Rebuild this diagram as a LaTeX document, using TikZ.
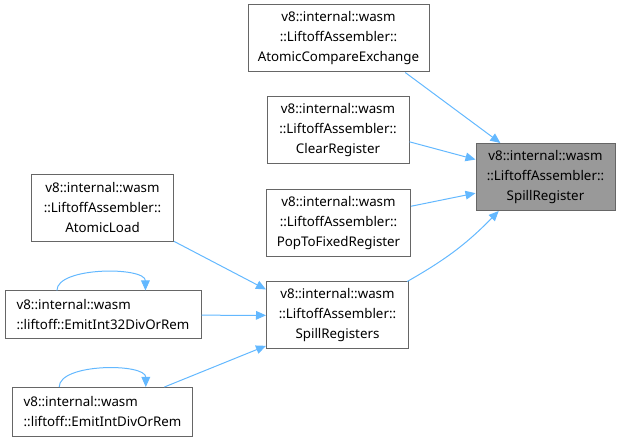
\documentclass[tikz,border=0pt]{standalone}
\usepackage{fontspec}
\setmainfont{Noto Sans}
\usetikzlibrary{arrows.meta}

\definecolor{edgeblue}{HTML}{63B8FF}
\definecolor{boxgray}{HTML}{666666}
\definecolor{hilite}{HTML}{999999}

\begin{document}
\begin{tikzpicture}[
  x=0.75pt, y=-0.75pt,
  fn/.style={rectangle, draw=boxgray, line width=0.75pt, fill=white, align=center, inner sep=0pt, minimum width=106.5pt, minimum height=50.25pt, font=\fontsize{10}{15}\selectfont},
  arrow/.style={-{Triangle[length=7.5pt, width=6.5pt]}, draw=edgeblue, line width=0.75pt},
]
\useasboundingbox (0,0) rectangle (622,442);

% === Callers of SpillRegister ===
\node[fn, minimum width=135.75pt] (ace) at (338.5,38.5) {v8::internal::wasm\\::LiftoffAssembler::\\AtomicCompareExchange};
\node[fn] (clearreg) at (338,130.5) {v8::internal::wasm\\::LiftoffAssembler::\\ClearRegister};
\node[fn, minimum width=108pt] (poptofixed) at (338.5,223) {v8::internal::wasm\\::LiftoffAssembler::\\PopToFixedRegister};
\node[fn] (spillregs) at (337.5,315.5) {v8::internal::wasm\\::LiftoffAssembler::\\SpillRegisters};

% === Target ===
\node[fn, fill=hilite, minimum width=104.25pt] (spillreg) at (545.5,177) {v8::internal::wasm\\::LiftoffAssembler::\\SpillRegister};

% === Callers of SpillRegisters ===
\node[fn] (atomicload) at (102.5,208) {v8::internal::wasm\\::LiftoffAssembler::\\AtomicLoad};
\node[fn, align=left, minimum width=147pt, minimum height=36pt] (emitint32) at (103,315) {v8::internal::wasm\\::liftoff::EmitInt32DivOrRem};
\node[fn, align=left, minimum width=135pt, minimum height=36.75pt] (emitint) at (102.5,412) {v8::internal::wasm\\::liftoff::EmitIntDivOrRem};

\draw[arrow] (ace.-27) -- (spillreg.143);
\draw[arrow] (clearreg.-9) -- (spillreg.166);
\draw[arrow] (poptofixed.13) -- (spillreg.193);
\draw[arrow] (spillregs.26) to[bend right=8] (spillreg.216);

\draw[arrow] (atomicload.-25) -- (spillregs.160);
\draw[arrow] (emitint32) -- (spillregs);
\draw[arrow] (emitint.22) -- (spillregs.203);

% self calls
\draw[arrow] (emitint32.152) .. controls +(0,-24) and +(0,-24) .. (emitint32.30);
\draw[arrow] (emitint.150) .. controls +(0,-24) and +(0,-24) .. (emitint.30);

\end{tikzpicture}
\end{document}
